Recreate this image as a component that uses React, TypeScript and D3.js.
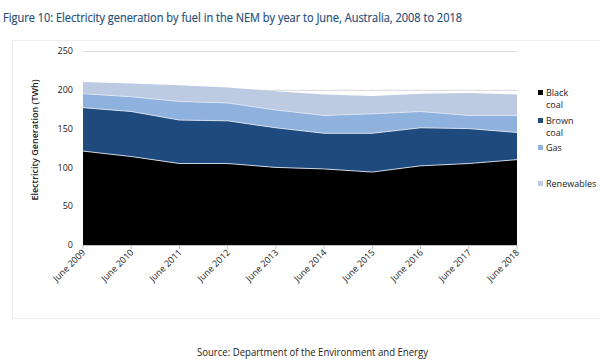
import React from "react";
import * as d3 from "d3";

const years = ["June 2009","June 2010","June 2011","June 2012","June 2013","June 2014","June 2015","June 2016","June 2017","June 2018"];
const blackCoal = [121, 114, 105, 105, 100, 98, 94, 102, 105, 110];
const brownCoal = [56, 58, 56, 55, 51, 46, 50, 49, 45, 35];
const gas = [18, 19, 24, 23, 23, 23, 25, 21, 17, 22];
const renewables = [15, 17, 21, 20, 24, 27, 23, 23, 29, 27];
const seriesNames = ["Black coal", "Brown coal", "Gas", "Renewables"];
const legendLines = [["Black", "coal"], ["Brown", "coal"], ["Gas"], ["Renewables"]];
const yTicks = [0, 50, 100, 150, 200, 250];
const colors = ["#000000", "#1f4a7d", "#8fb1de", "#bccbe2"];

export default function App() {
  const W = 600, H = 362;
  const x0 = 83, x1 = 517, yTop = 51, yBot = 245;
  const x = d3.scalePoint<string>().domain(years).range([x0, x1]);
  const y = d3.scaleLinear().domain([0, 250]).range([yBot, yTop]);
  const rows = years.map((yr, i) => ({
    year: yr,
    "Black coal": blackCoal[i],
    "Brown coal": brownCoal[i],
    Gas: gas[i],
    Renewables: renewables[i],
  }));
  const stack = d3.stack<any>().keys(seriesNames)(rows);
  const area = d3.area<any>()
    .x((d) => x(d.data.year)!)
    .y0((d) => y(d[0]))
    .y1((d) => y(d[1]));
  const line = d3.line<any>().x((d) => x(d.data.year)!).y((d) => y(d[1]));
  const legendY = [93, 121, 148, 184];
  const font = "'Open Sans', 'Noto Sans', sans-serif";

  return (
    <svg width={W} height={H} style={{ position: "absolute", left: 0, top: 0, background: "#fff" }} fontFamily={font}>
      <rect x={12.5} y={40.5} width={W} height={278} fill="none" stroke="#eeeeee" />
      <text x={3} y={22} fontSize={13.5} fill="#1f4e79" textLength={459} lengthAdjust="spacingAndGlyphs" stroke="#1f4e79" strokeWidth={0.2}>
        Figure 10: Electricity generation by fuel in the NEM by year to June, Australia, 2008 to 2018
      </text>
      {yTicks.map((t) => (
        <g key={t}>
          <line x1={x0} x2={x1} y1={y(t) + 0.5} y2={y(t) + 0.5} stroke="#d9d9d9" />
          <text x={73} y={y(t)} dy="0.35em" textAnchor="end" fontSize={9} fill="#222">{t}</text>
        </g>
      ))}
      {stack.map((s, i) => (
        <path key={s.key} d={area(s)!} fill={colors[i]} />
      ))}
      {stack.slice(0, 3).map((s) => (
        <path key={"l" + s.key} d={line(s)!} fill="none" stroke="#dfe6f2" strokeWidth={1} opacity={0.85} />
      ))}
      <line x1={x0} x2={x1} y1={yBot + 0.5} y2={yBot + 0.5} stroke="#bfbfbf" />
      {years.map((yr) => (
        <g key={yr}>
          <line x1={x(yr)} x2={x(yr)} y1={yBot} y2={yBot + 4} stroke="#bfbfbf" />
          <text
            transform={`translate(${x(yr)! + 3},${yBot + 8}) rotate(-45)`}
            textAnchor="end"
            fontSize={9}
            fill="#222"
          >
            {yr}
          </text>
        </g>
      ))}
      <text transform={`translate(38,140) rotate(-90)`} textAnchor="middle" fontSize={9} fill="#222" fontWeight={600}>
        Electricity Generation (TWh)
      </text>
      {legendLines.map((lines, i) => (
        <g key={i}>
          <rect x={538} y={legendY[i] - 3} width={5} height={5} fill={colors[i]} />
          {lines.map((l, j) => (
            <text key={j} x={546} y={legendY[i] + j * 12} dy="0.35em" fontSize={9} fill="#222">{l}</text>
          ))}
        </g>
      ))}
      <text x={197} y={352} dy="0.35em" fontSize={10.5} fill="#222" textLength={231} lengthAdjust="spacingAndGlyphs">
        Source: Department of the Environment and Energy
      </text>
    </svg>
  );
}
